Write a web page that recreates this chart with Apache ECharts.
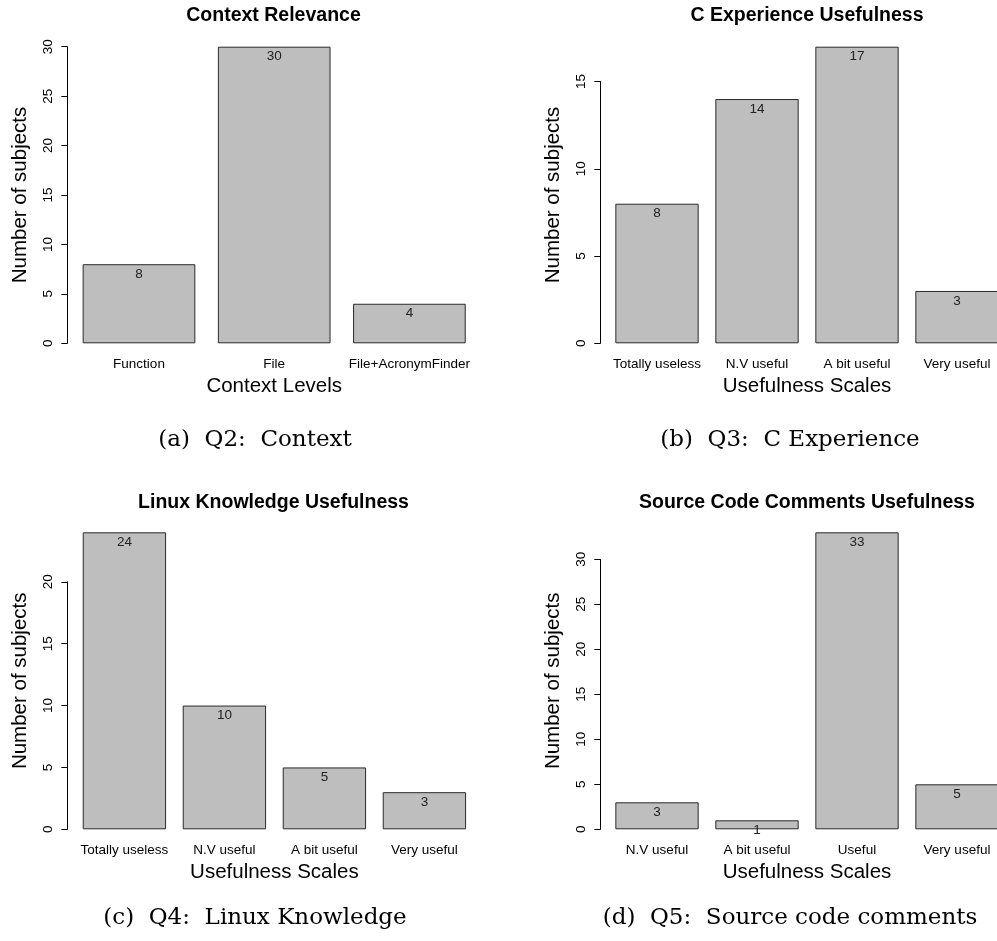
<!DOCTYPE html>
<html>
<head>
<meta charset="utf-8">
<script src="https://cdn.jsdelivr.net/npm/echarts@6/dist/echarts.min.js"></script>
<style>
html,body{margin:0;padding:0;background:#fff;overflow:hidden;width:997px;height:941px;}
#chart{width:1020px;height:941px;}
</style>
</head>
<body>
<div id="chart"></div>
<script>
// ---- data ----
const titles = ['Context Relevance', 'C Experience Usefulness', 'Linux Knowledge Usefulness', 'Source Code Comments Usefulness'];
const xNames = ['Context Levels', 'Usefulness Scales', 'Usefulness Scales', 'Usefulness Scales'];
const yName = 'Number of subjects';
const captions = ['(a)  Q2:  Context', '(b)  Q3:  C Experience', '(c)  Q4:  Linux Knowledge', '(d)  Q5:  Source code comments'];

const catsA = ['Function', 'File', 'File+AcronymFinder'];
const valsA = [8, 30, 4];
const catsB = ['Totally useless', 'N.V useful', 'A bit useful', 'Very useful'];
const valsB = [8, 14, 17, 3];
const catsC = ['Totally useless', 'N.V useful', 'A bit useful', 'Very useful'];
const valsC = [24, 10, 5, 3];
const catsD = ['N.V useful', 'A bit useful', 'Useful', 'Very useful'];
const valsD = [3, 1, 33, 5];

const yTickMax = [30, 15, 20, 30];
const yTickStep = 5;

// ---- layout (pixels) ----
const layouts = [
  {left: 71.4, width: 405.6, top: 46.7, bottom: 343.3, axisX: 67.3, capX: 255, capY: 440},
  {left: 607,  width: 400,   top: 46.7, bottom: 343.3, axisX: 600.3, capX: 790, capY: 440},
  {left: 74.4, width: 400,   top: 532.3, bottom: 829.3, axisX: 67.3, capX: 255, capY: 918},
  {left: 607,  width: 400,   top: 532.3, bottom: 829.3, axisX: 600.3, capX: 790, capY: 918}
];

const cats = [catsA, catsB, catsC, catsD];
const vals = [valsA, valsB, valsC, valsD];

const FONT = '"Liberation Sans", Arial, Helvetica, sans-serif';
const grid = [], xAxis = [], yAxis = [], series = [], graphic = [];

for (let i = 0; i < 4; i++) {
  const L = layouts[i];
  const h = L.bottom - L.top;
  const vmax = Math.max.apply(null, vals[i]);
  const pxPerUnit = h / vmax;
  // main grid
  grid.push({left: L.left, top: L.top, width: L.width, height: h});
  xAxis.push({
    type: 'category', gridIndex: 2 * i, data: cats[i],
    axisLine: {show: false}, axisTick: {show: false},
    axisLabel: {interval: 0, fontSize: 13.5, color: '#000', fontFamily: FONT, margin: 14},
    name: xNames[i], nameLocation: 'middle', nameGap: 33,
    nameTextStyle: {fontSize: 20.5, color: '#000', fontFamily: FONT}
  });
  yAxis.push({
    type: 'value', gridIndex: 2 * i, min: 0, max: vmax,
    axisLine: {show: false}, axisTick: {show: false}, axisLabel: {show: false}, splitLine: {show: false},
    name: yName, nameLocation: 'middle', nameGap: (L.left - (L.axisX - 47)) - 11,
    nameTextStyle: {fontSize: 20.5, color: '#000', fontFamily: FONT}
  });
  // axis-only grid (axis line spans 0..last tick)
  const axH = yTickMax[i] * pxPerUnit;
  grid.push({left: L.axisX, top: L.bottom - axH, width: 10, height: axH});
  xAxis.push({type: 'value', gridIndex: 2 * i + 1, show: false});
  yAxis.push({
    type: 'value', gridIndex: 2 * i + 1, min: 0, max: yTickMax[i], interval: yTickStep,
    axisLine: {show: true, lineStyle: {color: '#000', width: 1}},
    axisTick: {show: true, length: 6, lineStyle: {color: '#000', width: 1}},
    axisLabel: {rotate: 90, fontSize: 13.5, color: '#000', fontFamily: FONT, margin: 12},
    splitLine: {show: false}
  });
  series.push({
    type: 'bar', xAxisIndex: 2 * i, yAxisIndex: 2 * i, data: vals[i],
    barCategoryGap: '16.667%',
    itemStyle: {color: '#bebebe', borderColor: '#2a2a2a', borderWidth: 1},
    label: {show: true, position: 'insideTop', distance: 3, fontSize: 13.5, color: '#222', fontFamily: FONT},
    silent: true, animation: false
  });
  // title
  const titleY = i < 2 ? 16 : 502.7;
  const titleX = i % 2 === 0 ? 273.5 : 807;
  graphic.push({type: 'text', x: titleX, y: titleY, style: {text: titles[i], textAlign: 'center', textVerticalAlign: 'middle', font: 'bold 19.5px ' + FONT, fill: '#000'}});
  graphic.push({type: 'text', x: L.capX, y: L.capY, style: {text: captions[i], textAlign: 'center', textVerticalAlign: 'middle', font: '23px "DejaVu Serif", serif', fill: '#000'}});
}

const chart = echarts.init(document.getElementById('chart'), null, {renderer: 'canvas'});
chart.setOption({animation: false, backgroundColor: '#fff', grid, xAxis, yAxis, series, graphic});
</script>
</body>
</html>
